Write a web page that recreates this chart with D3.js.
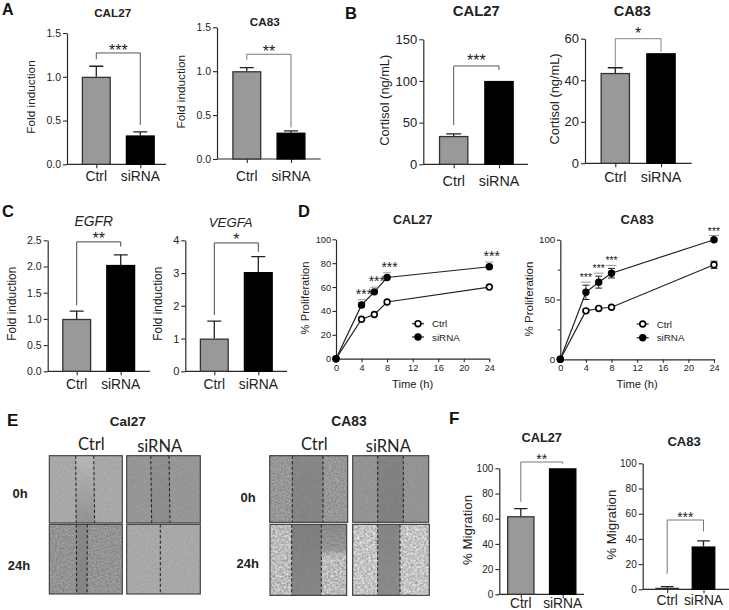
<!DOCTYPE html>
<html>
<head>
<meta charset="utf-8">
<script src="https://cdn.jsdelivr.net/npm/d3@7"></script>
<style>
html,body{margin:0;padding:0;background:#fff;overflow:hidden}
svg{display:block}
text{font-family:"Liberation Sans",Arial,sans-serif;fill:#222}
</style>
</head>
<body>
<svg id="fig" width="729" height="610" viewBox="0 0 729 610"></svg>
<script>
// ---------- data ----------
const groups = ["Ctrl", "siRNA"];
const foldCal27 = [1.0, 0.33],  foldCal27Err = [0.12, 0.04];
const foldCa83  = [1.0, 0.30],  foldCa83Err  = [0.04, 0.02];
const cortCal27 = [34, 100],    cortCal27Err = [2.5, 0];
const cortCa83  = [43.5, 53],   cortCa83Err  = [2.5, 0];
const egfr  = [1.0, 2.03],      egfrErr  = [0.15, 0.19];
const vegfa = [1.0, 3.03],      vegfaErr = [0.53, 0.47];
const migCal27 = [62, 100],     migCal27Err = [6, 0];
const migCa83  = [1.2, 34],     migCa83Err  = [1, 4.5];

const fold15Ticks = [0, 0.5, 1.0, 1.5];
const cortCalTicks = [0, 50, 100, 150];
const cortCaTicks = [0, 20, 40, 60];
const fold25Ticks = [0, 0.5, 1.0, 1.5, 2.0, 2.5];
const vegfaTicks = [0, 1, 2, 3, 4];
const pctTicks = [0, 20, 40, 60, 80, 100];

const hours = [0, 4, 6, 8, 24];
const hourTicks = [0, 4, 8, 12, 16, 20, 24];
const prolCalCtrl = [0, 33, 37, 47.5, 60];
const prolCalSi   = [0, 45, 56, 68, 77];
const prolCaCtrl  = [0, 40.5, 42.5, 43.5, 79];
const prolCaCtrlErr = [0, 1, 1, 1, 3];
const prolCaSi    = [0, 56, 64.5, 72, 100];
const prolCaSiErr = [0, 6, 5, 4, 1];
const prolCalErr  = [0, 1.5, 1, 1, 1];
const sigHours = [4, 6, 8, 24];
const prolCa100Ticks = [0, 50, 100];
const prolCaMinor = [25, 75];

// ---------- helpers ----------
const svg = d3.select("#fig");
const INK = "#2a2a2a";

function label(x, y, str, size, opts = {}) {
  return svg.append("text")
    .attr("x", x).attr("y", y)
    .attr("text-anchor", opts.anchor || "middle")
    .attr("font-size", size)
    .attr("font-weight", opts.bold ? "bold" : "normal")
    .attr("font-style", opts.italic ? "italic" : "normal")
    .style("font-family", opts.family || null)
    .text(str);
}
function ylabel(cx, cy, str, size) {
  svg.append("text")
    .attr("transform", `translate(${cx + size * 0.36},${cy}) rotate(-90)`)
    .attr("text-anchor", "middle").attr("font-size", size).text(str);
}
function styleAxis(g, size, color = INK) {
  g.selectAll("text").attr("font-size", size).style("fill", "#222")
    .attr("font-family", '"Liberation Sans",Arial,sans-serif');
  g.selectAll("line").attr("stroke", color).attr("stroke-width", 1.1);
  g.selectAll("path").attr("stroke", color).attr("stroke-width", 1.2);
}

function barPanel(c) {
  const y = d3.scaleLinear().domain(c.domain).range([c.y0, c.yTop]);
  const x = d3.scalePoint().domain(groups).range(c.centers);
  const yAxis = d3.axisLeft(y).tickValues(c.ticks).tickFormat(d3.format(c.fmt)).tickSize(4).tickPadding(2).tickSizeOuter(0);
  styleAxis(svg.append("g").attr("transform", `translate(${c.axisX},0)`).call(yAxis), c.tickSize);
  const xAxis = d3.axisBottom(x).tickSize(4).tickFormat(() => "");
  const gx = svg.append("g").attr("transform", `translate(0,${c.y0})`).call(xAxis);
  gx.select(".domain").remove();
  styleAxis(gx, 10);
  svg.append("line").attr("x1", c.axisX).attr("x2", c.axisRight).attr("y1", c.y0).attr("y2", c.y0)
    .attr("stroke", INK).attr("stroke-width", 1.2);

  groups.forEach((g, i) => {
    const v = c.values[i], e = c.errors[i], cx = x(g);
    if (e > 0) {
      svg.append("path")
        .attr("d", `M${cx},${y(v)}V${y(v + e)}M${cx - c.cap},${y(v + e)}H${cx + c.cap}`)
        .attr("fill", "none").attr("stroke", "#222").attr("stroke-width", 1.3);
    }
    svg.append("rect")
      .attr("x", cx - c.barW / 2 + 0.6).attr("width", c.barW - 1.2)
      .attr("y", y(v) + 0.6).attr("height", y(0) - y(v) - 0.6)
      .attr("fill", i === 0 ? "#999999" : "#000")
      .attr("stroke", i === 0 ? "#333" : "#000").attr("stroke-width", 1.3);
    label(cx, c.labelY, g, c.catSize);
  });

  // significance bracket, given in value units
  const [top, lEnd, rEnd] = c.bracket;
  const bx1 = x(groups[0]), bx2 = x(groups[1]);
  svg.append("path")
    .attr("d", `M${bx1},${y(lEnd)}V${y(top)}H${bx2}V${y(rEnd)}`)
    .attr("fill", "none").attr("stroke", c.brColor || "#444").attr("stroke-width", 0.9);
  label((bx1 + bx2) / 2 + (c.starDx || 0), y(top) + c.starDy, c.stars, c.starSize);

  label(c.titleX, c.titleY, c.title, c.titleSize, { bold: !c.italic, italic: c.italic });
  ylabel(c.ylX, c.ylY, c.ylab, c.ylSize);
}

function linePanel(c) {
  const x = d3.scaleLinear().domain([0, 24]).range(c.xr);
  const y = d3.scaleLinear().domain([0, 100]).range(c.yr);
  const yAxis = d3.axisLeft(y).tickValues(c.yTicks).tickSize(3.5).tickPadding(1.5).tickSizeOuter(0);
  styleAxis(svg.append("g").attr("transform", `translate(${c.xr[0]},0)`).call(yAxis), c.yTickSize);
  if (c.yMinor) {
    svg.append("g").attr("transform", `translate(${c.xr[0]},0)`)
      .call(d3.axisLeft(y).tickValues(c.yMinor).tickSize(2.5).tickFormat(() => ""))
      .call(g => g.select(".domain").remove())
      .call(g => styleAxis(g, 8));
  }
  const xAxis = d3.axisBottom(x).tickValues(hourTicks).tickSize(3.5).tickPadding(2).tickSizeOuter(0);
  styleAxis(svg.append("g").attr("transform", `translate(0,${c.yr[0]})`).call(xAxis), c.xTickSize);

  const line = d3.line().x((d, i) => x(hours[i])).y(d => y(d));
  c.series.forEach(s => {
    svg.append("path").attr("d", line(s.values)).attr("fill", "none").attr("stroke", "#222").attr("stroke-width", 1.2);
    s.values.forEach((v, i) => {
      const e = s.errors[i];
      if (e > 0) {
        svg.append("path")
          .attr("d", `M${x(hours[i])},${y(v - e)}V${y(v + e)}M${x(hours[i]) - 3.5},${y(v + e)}H${x(hours[i]) + 3.5}M${x(hours[i]) - 3.5},${y(v - e)}H${x(hours[i]) + 3.5}`)
          .attr("fill", "none").attr("stroke", "#222").attr("stroke-width", 1);
      }
    });
  });
  c.series.forEach(s => {
    svg.selectAll(null).data(s.values).enter().append("circle")
      .attr("cx", (d, i) => x(hours[i])).attr("cy", d => y(d)).attr("r", 2.9)
      .attr("fill", s.filled ? "#000" : "#fff").attr("stroke", "#000").attr("stroke-width", 1.6);
  });
  // stars above the siRNA series
  const si = c.series[1];
  sigHours.forEach(h => {
    const i = hours.indexOf(h);
    const cx = x(h);
    const ly = y(si.values[i] + si.errors[i]) - c.lineGap;
    svg.append("line").attr("x1", cx - c.sigW).attr("x2", cx + c.sigW).attr("y1", ly).attr("y2", ly)
      .attr("stroke", "#888").attr("stroke-width", 0.9);
    label(cx + c.starDx, ly - c.starGap, "***", c.starSize);
  });
  // legend
  c.series.forEach((s, i) => {
    const ly = c.legY[i];
    svg.append("line").attr("x1", c.legX - 6).attr("x2", c.legX + 6).attr("y1", ly).attr("y2", ly)
      .attr("stroke", "#222").attr("stroke-width", 1.2);
    svg.append("circle").attr("cx", c.legX).attr("cy", ly).attr("r", 2.9)
      .attr("fill", s.filled ? "#000" : "#fff").attr("stroke", "#000").attr("stroke-width", 1.6);
    label(c.legX + 14, ly + 3.6, s.name, c.legSize, { anchor: "start" });
  });
  label(c.titleX, c.titleY, c.title, c.titleSize, { bold: true });
  label((c.xr[0] + c.xr[1]) / 2, c.xlY, "Time (h)", c.xlSize);
  ylabel(c.ylX, c.ylY, "% Proliferation", c.ylSize);
}

// ---------- panel letters ----------
[["A", 2, 14.6, 16], ["B", 345, 19, 16.5], ["C", 2, 217, 16.5], ["D", 298, 217, 16.5], ["E", 7, 426, 17], ["F", 449, 424, 17]]
  .forEach(([t, x, y, s]) => label(x, y, t, s, { bold: true, anchor: "start" }).style("fill", "#111"));

// ---------- panel A ----------
barPanel({ values: foldCal27, errors: foldCal27Err, domain: [0, 1.5], ticks: fold15Ticks, fmt: ".1f",
  y0: 164.3, yTop: 33, axisX: 67, axisRight: 166, centers: [96.3, 140.3], barW: 29, cap: 7, labelY: 181,
  tickSize: 10.5, catSize: 13.8, bracket: [1.272, 1.2, 0.45], stars: "***", starSize: 16, starDy: 3, starDx: 0,
  title: "CAL27", titleX: 112.7, titleY: 16.7, titleSize: 11.7, ylab: "Fold induction", ylX: 31, ylY: 97, ylSize: 11.8 });
barPanel({ values: foldCa83, errors: foldCa83Err, domain: [0, 1.5], ticks: fold15Ticks, fmt: ".1f",
  y0: 159, yTop: 27.3, axisX: 217, axisRight: 320.7, centers: [246.8, 291], barW: 29, cap: 7, labelY: 180.7,
  tickSize: 10.5, catSize: 13.8, bracket: [1.193, 1.13, 0.36], stars: "**", starSize: 16, starDy: 3, brColor: "#666",
  title: "CA83", titleX: 264.7, titleY: 26, titleSize: 11.7, ylab: "Fold induction", ylX: 181, ylY: 91.7, ylSize: 11.8 });

// ---------- panel B ----------
barPanel({ values: cortCal27, errors: cortCal27Err, domain: [0, 150], ticks: cortCalTicks, fmt: "d",
  y0: 164.3, yTop: 39.3, axisX: 423.3, axisRight: 528, centers: [453.7, 499], barW: 29.5, cap: 7.5, labelY: 186,
  tickSize: 13, catSize: 14.3, bracket: [118, 47, 113], stars: "***", starSize: 16, starDy: 0,
  title: "CAL27", titleX: 476.3, titleY: 16, titleSize: 14.8, ylab: "Cortisol (ng/mL)", ylX: 384.7, ylY: 100.3, ylSize: 12.8 });
barPanel({ values: cortCa83, errors: cortCa83Err, domain: [0, 60], ticks: cortCaTicks, fmt: "d",
  y0: 163.3, yTop: 38.7, axisX: 585, axisRight: 691.7, centers: [615.3, 661], barW: 29.5, cap: 7.5, labelY: 181.7,
  tickSize: 13, catSize: 14.3, bracket: [60, 46.5, 53.7], stars: "*", starSize: 16, starDy: 0, brColor: "#777",
  title: "CA83", titleX: 632.3, titleY: 16, titleSize: 14.5, ylab: "Cortisol (ng/mL)", ylX: 554, ylY: 99, ylSize: 12.8 });

// ---------- panel C ----------
barPanel({ values: egfr, errors: egfrErr, domain: [0, 2.5], ticks: fold25Ticks, fmt: ".1f",
  y0: 371.3, yTop: 240.3, axisX: 47.7, axisRight: 150, centers: [76.7, 120.7], barW: 29, cap: 7, labelY: 389,
  tickSize: 10.5, catSize: 13.8, bracket: [2.47, 1.26, 2.38], stars: "**", starSize: 16, starDy: 2, brColor: "#333",
  title: "EGFR", italic: true, titleX: 93.7, titleY: 225.7, titleSize: 13.8, ylab: "Fold induction", ylX: 11.7, ylY: 303.7, ylSize: 11.9 });
barPanel({ values: vegfa, errors: vegfaErr, domain: [0, 4], ticks: vegfaTicks, fmt: "d",
  y0: 371.3, yTop: 240.3, axisX: 185.3, axisRight: 287, centers: [214.3, 258.3], barW: 29, cap: 7, labelY: 389,
  tickSize: 11, catSize: 13.8, bracket: [3.92, 1.72, 3.65], stars: "*", starSize: 16, starDy: 2, brColor: "#333",
  title: "VEGFA", italic: true, titleX: 230.7, titleY: 227, titleSize: 13.2, ylab: "Fold induction", ylX: 157.7, ylY: 303.7, ylSize: 11.9 });

// ---------- panel D ----------
linePanel({ xr: [336, 489.3], yr: [358.7, 239.3], yTicks: pctTicks, yTickSize: 9.2, xTickSize: 9.2,
  series: [
    { name: groups[0], values: prolCalCtrl, errors: prolCalErr.map(() => 0), filled: false },
    { name: groups[1], values: prolCalSi, errors: prolCalErr, filled: true }
  ],
  lineGap: 3.5, starGap: 1, starDx: 2.5, sigW: 4, starSize: 14, legX: 418, legY: [323.7, 337], legSize: 9.8,
  title: "CAL27", titleX: 412.7, titleY: 223.7, titleSize: 12.4, xlY: 388, xlSize: 11.2, ylX: 305, ylY: 298, ylSize: 11.2 });
linePanel({ xr: [560.3, 714], yr: [359.3, 239.7], yTicks: prolCa100Ticks, yMinor: prolCaMinor, yTickSize: 9.8, xTickSize: 9.2,
  series: [
    { name: groups[0], values: prolCaCtrl, errors: prolCaCtrlErr, filled: false },
    { name: groups[1], values: prolCaSi, errors: prolCaSiErr, filled: true }
  ],
  lineGap: 3, starGap: 1, starDx: 0, sigW: 5, starSize: 10.5, legX: 642.7, legY: [324, 337.7], legSize: 9.8,
  title: "CA83", titleX: 637, titleY: 224, titleSize: 13, xlY: 388, xlSize: 11.2, ylX: 529.3, ylY: 299, ylSize: 11.5 });

// ---------- panel F ----------
barPanel({ values: migCal27, errors: migCal27Err, domain: [0, 100], ticks: pctTicks, fmt: "d",
  y0: 594.3, yTop: 468.3, axisX: 499.3, axisRight: 584, centers: [520.8, 562.7], barW: 27.5, cap: 6.7, labelY: 608,
  tickSize: 10, catSize: 13.8, bracket: [105, 73.5, 103.6], stars: "**", starSize: 14, starDy: 1.5, brColor: "#666",
  title: "CAL27", titleX: 541.7, titleY: 442, titleSize: 12.8, ylab: "% Migration", ylX: 467.7, ylY: 530, ylSize: 13.3 });
barPanel({ values: migCa83, errors: migCa83Err, domain: [0, 100], ticks: pctTicks, fmt: "d",
  y0: 589.3, yTop: 463.3, axisX: 642.7, axisRight: 729, centers: [667.2, 703.5], barW: 23.7, cap: 6.3, labelY: 605,
  tickSize: 10, catSize: 13.8, bracket: [55, 12.4, 46], stars: "***", starSize: 14, starDy: 1.5, brColor: "#666",
  title: "CA83", titleX: 684, titleY: 446, titleSize: 13, ylab: "% Migration", ylX: 611, ylY: 524.7, ylSize: 13.3 });

// ---------- panel E: wound-healing micrographs, textured with an SVG filter ----------
const defs = svg.append("defs");
function noise(id, freq, amp, seed) {
  const f = defs.append("filter").attr("id", id).attr("x", 0).attr("y", 0).attr("width", 1).attr("height", 1)
    .attr("color-interpolation-filters", "sRGB");
  f.append("feTurbulence").attr("type", "fractalNoise").attr("baseFrequency", freq).attr("numOctaves", 3).attr("seed", seed).attr("result", "n");
  f.append("feColorMatrix").attr("in", "n").attr("type", "matrix")
    .attr("values", "1 0 0 0 0 1 0 0 0 0 1 0 0 0 0 0 0 0 0 1").attr("result", "g");
  f.append("feComposite").attr("in", "SourceGraphic").attr("in2", "g").attr("operator", "arithmetic")
    .attr("k1", 0).attr("k2", 1).attr("k3", amp).attr("k4", -amp / 2);
}
noise("texFine", 0.7, 0.12, 3);
noise("texMid", 0.6, 0.26, 11);
noise("texCoarse", 0.45, 0.5, 8);
noise("texSmooth", 0.2, 0.04, 5);

const fades = defs.append("linearGradient").attr("id", "shadeDown").attr("x1", 0).attr("x2", 0).attr("y1", 0).attr("y2", 1);
fades.append("stop").attr("offset", 0).attr("stop-color", "#777").attr("stop-opacity", 0.75);
fades.append("stop").attr("offset", 0.8).attr("stop-color", "#777").attr("stop-opacity", 0.55);
fades.append("stop").attr("offset", 1).attr("stop-color", "#777").attr("stop-opacity", 0);
function gapGradient(id, top, bottom) {
  const g = defs.append("linearGradient").attr("id", id).attr("x1", 0).attr("x2", 0).attr("y1", 0).attr("y2", 1);
  g.append("stop").attr("offset", 0).attr("stop-color", top);
  g.append("stop").attr("offset", 1).attr("stop-color", bottom);
}

const scratches = [
  { x: [49.3, 122.3], y: [455.7, 523], cell: "#a8a8a8", gap: ["#b6b6b6", "#929292"], tex: "texFine", cuts: [[75.7, 76.2], [93.7, 94.7]] },
  { x: [126.7, 200.3], y: [455.7, 523], cell: "#969696", gap: ["#8f8f8f", "#8c8c8c"], tex: "texFine", cuts: [[150.7, 151.7], [169, 170]] },
  { x: [49.3, 122.3], y: [524.3, 594], cell: "#939393", gap: ["#868686", "#858585"], tex: "texMid", cuts: [[76.3, 76.7], [87.3, 87]] },
  { x: [126.7, 200.3], y: [524.3, 594], cell: "#a8a8a8", gap: null, tex: "texFine", cuts: [[160.3, 160.3]] },
  { x: [269.7, 347.7], y: [455.7, 522.3], cell: "#979797", gap: ["#868686", "#848484"], tex: "texMid", cuts: [[292.3, 292.3], [323, 323]] },
  { x: [352.7, 428.7], y: [455.7, 522.3], cell: "#949494", gap: ["#828282", "#808080"], tex: "texFine", cuts: [[377.7, 377.7], [403.3, 403.3]] },
  { x: [270, 346.7], y: [524.3, 595.3], cell: "#bcbcbc", gap: ["#7e7e7e", "#868686"], tex: "texCoarse", cuts: [[291.7, 291.7], [321.3, 321.3]], shade: true },
  { x: [352.7, 429.3], y: [524.3, 595.3], cell: "#c4c4c4", gap: ["#848484", "#8a8a8a"], tex: "texCoarse", cuts: [[377.7, 377.7], [400, 400]] }
];
scratches.forEach((p, k) => {
  const [x0, x1] = p.x, [y0, y1] = p.y;
  svg.append("rect").attr("x", x0).attr("y", y0).attr("width", x1 - x0).attr("height", y1 - y0)
    .attr("fill", p.cell).attr("filter", `url(#${p.tex})`);
  if (p.gap) {
    const a = (p.cuts[0][0] + p.cuts[0][1]) / 2, b = (p.cuts[1][0] + p.cuts[1][1]) / 2;
    gapGradient("gap" + k, p.gap[0], p.gap[1]);
    svg.append("rect").attr("x", a).attr("y", y0).attr("width", b - a).attr("height", y1 - y0)
      .attr("fill", `url(#gap${k})`).attr("filter", "url(#texSmooth)");
    if (p.shade) {
      svg.append("rect").attr("x", b).attr("y", y0).attr("width", x1 - b).attr("height", (y1 - y0) * 0.45)
        .attr("fill", "url(#shadeDown)");
    }
  }
  p.cuts.forEach(c => {
    svg.append("line").attr("x1", c[0]).attr("x2", c[1]).attr("y1", y0).attr("y2", y1)
      .attr("stroke", "#1c1c1c").attr("stroke-width", 1).attr("stroke-dasharray", "3.2 2.2");
  });
  svg.append("rect").attr("x", x0).attr("y", y0).attr("width", x1 - x0).attr("height", y1 - y0)
    .attr("fill", "none").attr("stroke", "#3c3c3c").attr("stroke-width", 1.1);
});
label(127.7, 426, "Cal27", 13.5, { bold: true });
label(349, 426, "CA83", 13.8, { bold: true });
const eFont = "Lato";
[[91.3, 450, groups[0]], [159.7, 452, groups[1]], [314.3, 450, groups[0]], [388.3, 452, groups[1]]]
  .forEach(([x, y, t]) => label(x, y, t, 16.5, { family: eFont }));
[[20, 498, "0h"], [19, 569.7, "24h"], [248, 502, "0h"], [247.7, 568, "24h"]]
  .forEach(([x, y, t]) => label(x, y, t, 13, { bold: true }));
</script>
</body>
</html>
